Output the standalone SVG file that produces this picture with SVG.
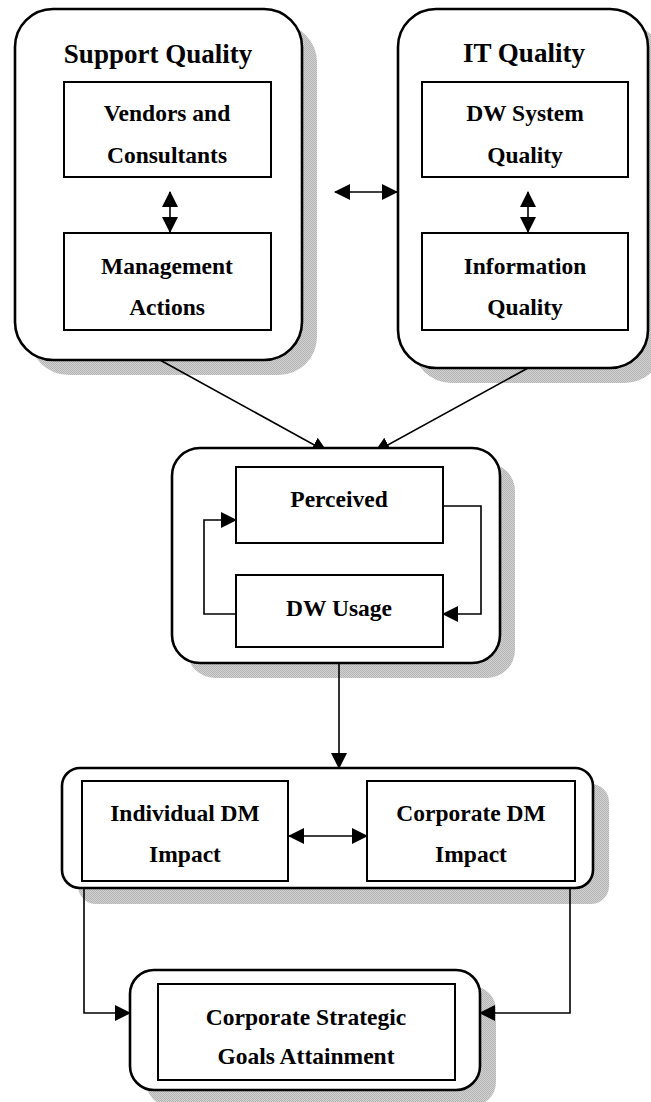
<svg xmlns="http://www.w3.org/2000/svg" width="651" height="1102" viewBox="0 0 651 1102">
<defs>
<pattern id="dither" width="2" height="2" patternUnits="userSpaceOnUse">
<rect width="2" height="2" fill="#d2d2d2"/>
<rect width="1" height="1" fill="#b4b4b4"/>
<rect x="1" y="1" width="1" height="1" fill="#b4b4b4"/>
</pattern>
<marker id="ah" markerUnits="userSpaceOnUse" markerWidth="16" markerHeight="16" refX="15" refY="8" orient="auto-start-reverse" viewBox="0 0 16 16">
<path d="M0,0 L16,8 L0,16 z" fill="#000"/>
</marker>
<clipPath id="aboveMid">
<rect x="0" y="0" width="651" height="448.5"/>
</clipPath>
</defs>
<style>
.shadow{fill:url(#dither);stroke:none}
.outer{fill:#fff;stroke:#000;stroke-width:2.6}
.inner{fill:#fff;stroke:#000;stroke-width:2}
.conn{fill:none;stroke:#000;stroke-width:1.6}
.title{font-family:"Liberation Serif","Times New Roman",serif;font-weight:bold;font-size:27px;text-anchor:middle;fill:#000}
.lbl{font-family:"Liberation Serif","Times New Roman",serif;font-weight:bold;font-size:23.5px;text-anchor:middle;fill:#000}
</style>
<rect width="651" height="1102" fill="#fff"/>
<g id="shadows">
<rect class="shadow" x="30" y="24" width="287" height="351" rx="38"/>
<rect class="shadow" x="413" y="24" width="250" height="359" rx="38"/>
<rect class="shadow" x="187" y="463" width="328" height="215" rx="28"/>
<rect class="shadow" x="78" y="784" width="531" height="120" rx="18"/>
<rect class="shadow" x="146" y="986" width="350" height="120" rx="24"/>
</g>
<g id="support-quality">
<rect class="outer" x="15" y="9" width="287" height="351" rx="38"/>
<text class="title" x="158" y="63">Support Quality</text>
</g>
<g id="it-quality">
<rect class="outer" x="398" y="9" width="250" height="359" rx="38"/>
<text class="title" x="524" y="62">IT Quality</text>
</g>
<g id="usage-group">
<rect class="outer" x="172" y="448" width="328" height="215" rx="28"/>
</g>
<g id="impact-group">
<rect class="outer" x="62" y="768" width="531" height="120" rx="18"/>
</g>
<g id="goals-group">
<rect class="outer" x="130" y="970" width="350" height="120" rx="24"/>
</g>
<g id="connectors">
<path class="conn" d="M160,360 L327,452" marker-end="url(#ah)" clip-path="url(#aboveMid)"/>
<path class="conn" d="M528,368 L375,452" marker-end="url(#ah)" clip-path="url(#aboveMid)"/>
<path class="conn" d="M170,192 V232" marker-start="url(#ah)" marker-end="url(#ah)"/>
<path class="conn" d="M528,192 V232" marker-start="url(#ah)" marker-end="url(#ah)"/>
<path class="conn" d="M335,192 H397" marker-start="url(#ah)" marker-end="url(#ah)"/>
<path class="conn" d="M236,614 H204 V520 H236" marker-end="url(#ah)"/>
<path class="conn" d="M443,506 H481 V614 H443" marker-end="url(#ah)"/>
<path class="conn" d="M339,663 V768" marker-end="url(#ah)"/>
<path class="conn" d="M289,836 H367" marker-start="url(#ah)" marker-end="url(#ah)"/>
<path class="conn" d="M84,888 V1013 H130" marker-end="url(#ah)"/>
<path class="conn" d="M570,888 V1013 H480" marker-end="url(#ah)"/>
</g>
<g id="vendors-consultants">
<rect class="inner" x="64" y="82" width="207" height="95"/>
<text class="lbl" x="167" y="121">Vendors and</text>
<text class="lbl" x="167" y="163">Consultants</text>
</g>
<g id="management-actions">
<rect class="inner" x="64" y="233" width="207" height="97"/>
<text class="lbl" x="167" y="274">Management</text>
<text class="lbl" x="167" y="315">Actions</text>
</g>
<g id="dw-system-quality">
<rect class="inner" x="422" y="82" width="206" height="95"/>
<text class="lbl" x="525" y="121">DW System</text>
<text class="lbl" x="525" y="163">Quality</text>
</g>
<g id="information-quality">
<rect class="inner" x="422" y="233" width="206" height="97"/>
<text class="lbl" x="525" y="274">Information</text>
<text class="lbl" x="525" y="315">Quality</text>
</g>
<g id="perceived">
<rect class="inner" x="236" y="467" width="207" height="76"/>
<text class="lbl" x="339" y="507">Perceived</text>
</g>
<g id="dw-usage">
<rect class="inner" x="236" y="575" width="207" height="72"/>
<text class="lbl" x="339" y="616">DW Usage</text>
</g>
<g id="individual-dm-impact">
<rect class="inner" x="82" y="781" width="206" height="100"/>
<text class="lbl" x="185" y="821">Individual DM</text>
<text class="lbl" x="185" y="862">Impact</text>
</g>
<g id="corporate-dm-impact">
<rect class="inner" x="367" y="781" width="208" height="100"/>
<text class="lbl" x="471" y="821">Corporate DM</text>
<text class="lbl" x="471" y="862">Impact</text>
</g>
<g id="corporate-strategic-goals">
<rect class="inner" x="158" y="984" width="297" height="96"/>
<text class="lbl" x="306" y="1025">Corporate Strategic</text>
<text class="lbl" x="306" y="1064">Goals Attainment</text>
</g>
</svg>
